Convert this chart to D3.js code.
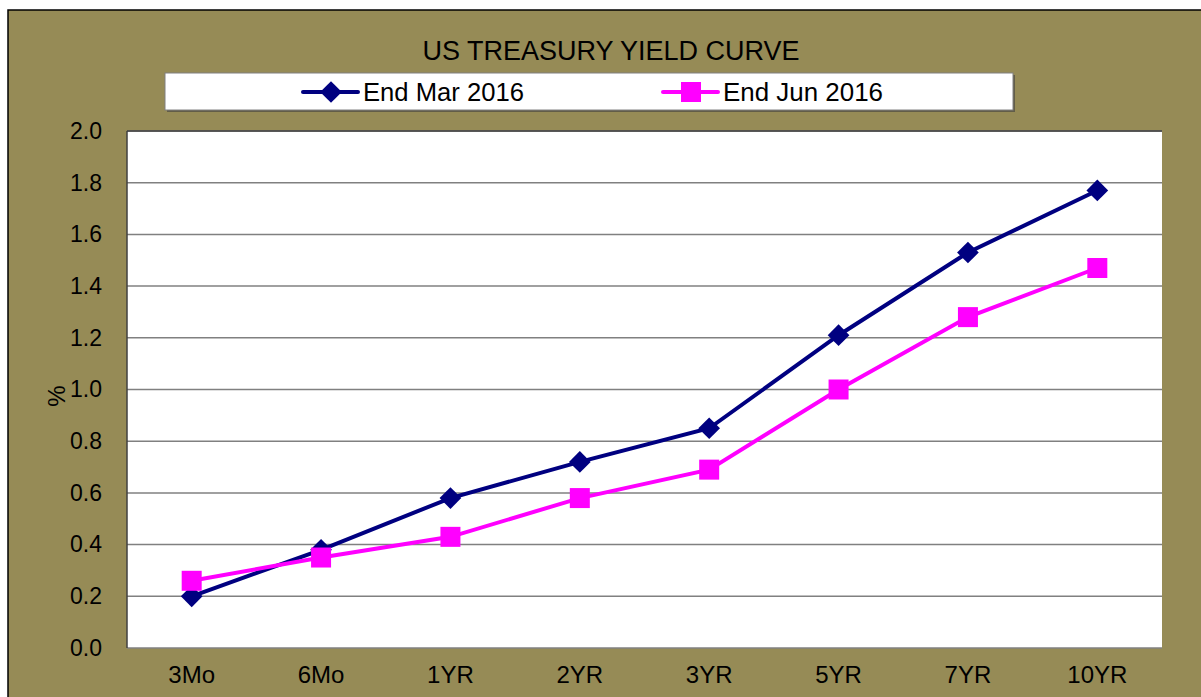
<!DOCTYPE html>
<html><head><meta charset="utf-8">
<script src="https://cdn.jsdelivr.net/npm/d3@7"></script>
<style>html,body{margin:0;padding:0;background:#fff;overflow:hidden}</style>
</head><body>
<svg id="c" width="1201" height="697"></svg>
<script>
const categories = ["3Mo","6Mo","1YR","2YR","3YR","5YR","7YR","10YR"];
const marValues = [0.20,0.38,0.58,0.72,0.85,1.21,1.53,1.77];
const junValues = [0.26,0.35,0.43,0.58,0.69,1.00,1.28,1.47];
const yTicks = [0,0.2,0.4,0.6,0.8,1.0,1.2,1.4,1.6,1.8,2.0];
const seriesNames = ["End Mar 2016","End Jun 2016"];
const title = "US TREASURY YIELD CURVE";

const svg = d3.select("#c");
const bg = "#968B56";
svg.append("rect").attr("x",8).attr("y",10).attr("width",1300).attr("height",800)
  .attr("fill",bg).attr("stroke","#000").attr("stroke-width",1.5);

const L=127,R=1162,T=131,B=648;
const x = d3.scaleBand().domain(categories).range([L,R]);
const y = d3.scaleLinear().domain([0,2]).range([B,T]);

svg.append("rect").attr("x",L).attr("y",T).attr("width",R-L).attr("height",B-T).attr("fill","#fff");

// gridlines
svg.append("g").selectAll("line").data(yTicks).join("line")
  .attr("x1",L).attr("x2",R).attr("y1",d=>y(d)).attr("y2",d=>y(d))
  .attr("stroke","#808080").attr("stroke-width",1.5);
svg.append("line").attr("x1",L).attr("x2",L).attr("y1",T).attr("y2",B).attr("stroke","#404040").attr("stroke-width",1.5);
svg.append("line").attr("x1",L).attr("x2",R).attr("y1",T).attr("y2",T).attr("stroke","#404040").attr("stroke-width",1.5);

// y axis labels
const yAxis = d3.axisLeft(y).tickValues(yTicks).tickFormat(d3.format(".1f")).tickSize(0).tickPadding(25);
const ga = svg.append("g").attr("transform",`translate(${L},0)`).call(yAxis);
ga.select(".domain").remove();
ga.selectAll("text").attr("font-family","Liberation Sans, Arial, sans-serif").attr("font-size",23).attr("fill","#000");

const xAxis = d3.axisBottom(x).tickSize(0).tickPadding(18);
const gx = svg.append("g").attr("transform",`translate(0,${B})`).call(xAxis);
gx.select(".domain").remove();
gx.selectAll("text").attr("font-family","Liberation Sans, Arial, sans-serif").attr("font-size",24).attr("fill","#000");

svg.append("text").attr("transform","translate(65,396) rotate(-90)").attr("text-anchor","middle")
  .attr("font-family","Liberation Sans, Arial, sans-serif").attr("font-size",24).text("%");

// lines
const cx = d=>x(d)+x.bandwidth()/2;
const line = d3.line().x((d,i)=>cx(categories[i])).y(d=>y(d));
const colors = ["#000080","#FF00FF"];
const data = [marValues,junValues];
data.forEach((vals,si)=>{
  svg.append("path").attr("d",line(vals)).attr("fill","none").attr("stroke",colors[si]).attr("stroke-width",4);
});
const diamond = d3.symbol().type(d3.symbolDiamond2).size(300);
svg.append("g").selectAll("path").data(marValues).join("path")
  .attr("d",diamond).attr("transform",(d,i)=>`translate(${cx(categories[i])},${y(d)})`)
  .attr("fill",colors[0]);
svg.append("g").selectAll("rect").data(junValues).join("rect")
  .attr("x",(d,i)=>cx(categories[i])-10).attr("y",d=>y(d)-10).attr("width",20).attr("height",20)
  .attr("fill",colors[1]);

// title
svg.append("text").attr("x",611).attr("y",60).attr("text-anchor","middle")
  .attr("font-family","Liberation Sans Narrow, Arial Narrow, sans-serif").attr("font-size",27)
  .attr("textLength",377).attr("lengthAdjust","spacingAndGlyphs").text(title);

// legend
svg.append("rect").attr("x",167).attr("y",75).attr("width",848).attr("height",37).attr("fill","#404040").attr("opacity",0.6);
svg.append("rect").attr("x",165).attr("y",73).attr("width",848).attr("height",37).attr("fill","#fff").attr("stroke","#808080").attr("stroke-width",1);
const legX = [303,663];
seriesNames.forEach((n,i)=>{
  const g = svg.append("g");
  g.append("line").attr("x1",legX[i]).attr("x2",legX[i]+55).attr("y1",92).attr("y2",92).attr("stroke",colors[i]).attr("stroke-width",4).attr("stroke-linecap","round");
  if(i===0) g.append("path").attr("d",diamond).attr("transform",`translate(${legX[i]+28},92)`).attr("fill",colors[i]);
  else g.append("rect").attr("x",legX[i]+28-10).attr("y",92-10).attr("width",20).attr("height",20).attr("fill",colors[i]);
  g.append("text").attr("x",legX[i]+60).attr("y",101).attr("font-family","Liberation Sans Narrow, Arial Narrow, sans-serif")
    .attr("font-size",26).attr("textLength",i===0?161:160).attr("lengthAdjust","spacingAndGlyphs").text(n);
});
</script>
</body></html>
